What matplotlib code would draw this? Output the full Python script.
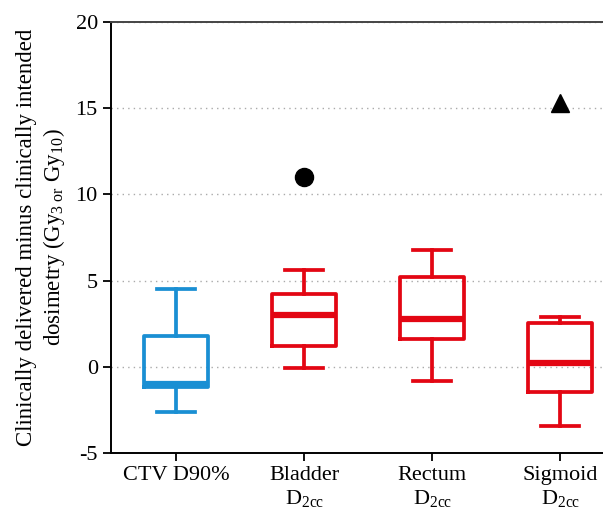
import matplotlib
matplotlib.use('Agg')
from matplotlib import pyplot as plt

# Box statistics (Gy)
labels = ['CTV D90%', 'Bladder\nD$_{\\mathrm{2cc}}$', 'Rectum\nD$_{\\mathrm{2cc}}$', 'Sigmoid\nD$_{\\mathrm{2cc}}$']
whislo = [-2.6, -0.05, -0.85, -3.45]
q1 = [-1.15, 1.2, 1.6, -1.45]
med = [-1.0, 3.0, 2.8, 0.2]
q3 = [1.8, 4.2, 5.2, 2.55]
whishi = [4.5, 5.6, 6.8, 2.9]
colors = ['#1a8fd3', '#e30613', '#e30613', '#e30613']

# outliers
bladder_out = [11.0]
sigmoid_out = [15.3]

plt.rcParams['font.family'] = ['Liberation Serif', 'DejaVu Serif']
plt.rcParams['mathtext.fontset'] = 'custom'
plt.rcParams['mathtext.rm'] = 'Liberation Serif'
plt.rcParams['mathtext.it'] = 'Liberation Serif:italic'
plt.rcParams['font.size'] = 16
plt.rcParams['axes.unicode_minus'] = False

fig = plt.figure(figsize = (6.03, 5.13), dpi = 100)
ax = fig.add_axes([0.184, 0.117, 0.83, 0.84])

for i in range(len(labels)):
  stats = [dict(whislo = whislo[i], q1 = q1[i], med = med[i], q3 = q3[i], whishi = whishi[i], fliers = [])]
  c = colors[i]
  ax.bxp(stats, positions = [i + 1], widths = 0.5, showfliers = False, patch_artist = False,
         boxprops = dict(color = c, linewidth = 2.7),
         medianprops = dict(color = c, linewidth = 4.5, solid_capstyle = 'butt'),
         whiskerprops = dict(color = c, linewidth = 2.7),
         capprops = dict(color = c, linewidth = 2.7),
         capwidths = 0.3)

ax.plot([2] * len(bladder_out), bladder_out, 'o', color = 'black', markersize = 13)
ax.plot([4] * len(sigmoid_out), sigmoid_out, '^', color = 'black', markersize = 13)

ax.set_xlim(0.49, 4.4)
ax.set_ylim(-5, 20)
ax.set_yticks(range(-5, 21, 5))
ax.set_xticks(range(1, len(labels) + 1), labels = labels)
ax.yaxis.grid(True, linestyle = (0, (1, 3)), color = '#aaaaaa', linewidth = 1)
ax.set_axisbelow(True)

ax.spines['right'].set_visible(False)
ax.spines['top'].set_color('#444444')
for s in ['left', 'bottom', 'top']:
  ax.spines[s].set_linewidth(1.4)
ax.tick_params(direction = 'out', length = 6, width = 1.3)

ax.set_ylabel('Clinically delivered minus clinically intended\n'
              'dosimetry (Gy$_{3\\ \\mathrm{or}}$ Gy$_{10}$)', labelpad = 6, fontsize = 16.5)

fig.savefig('out.png', dpi = 100)
